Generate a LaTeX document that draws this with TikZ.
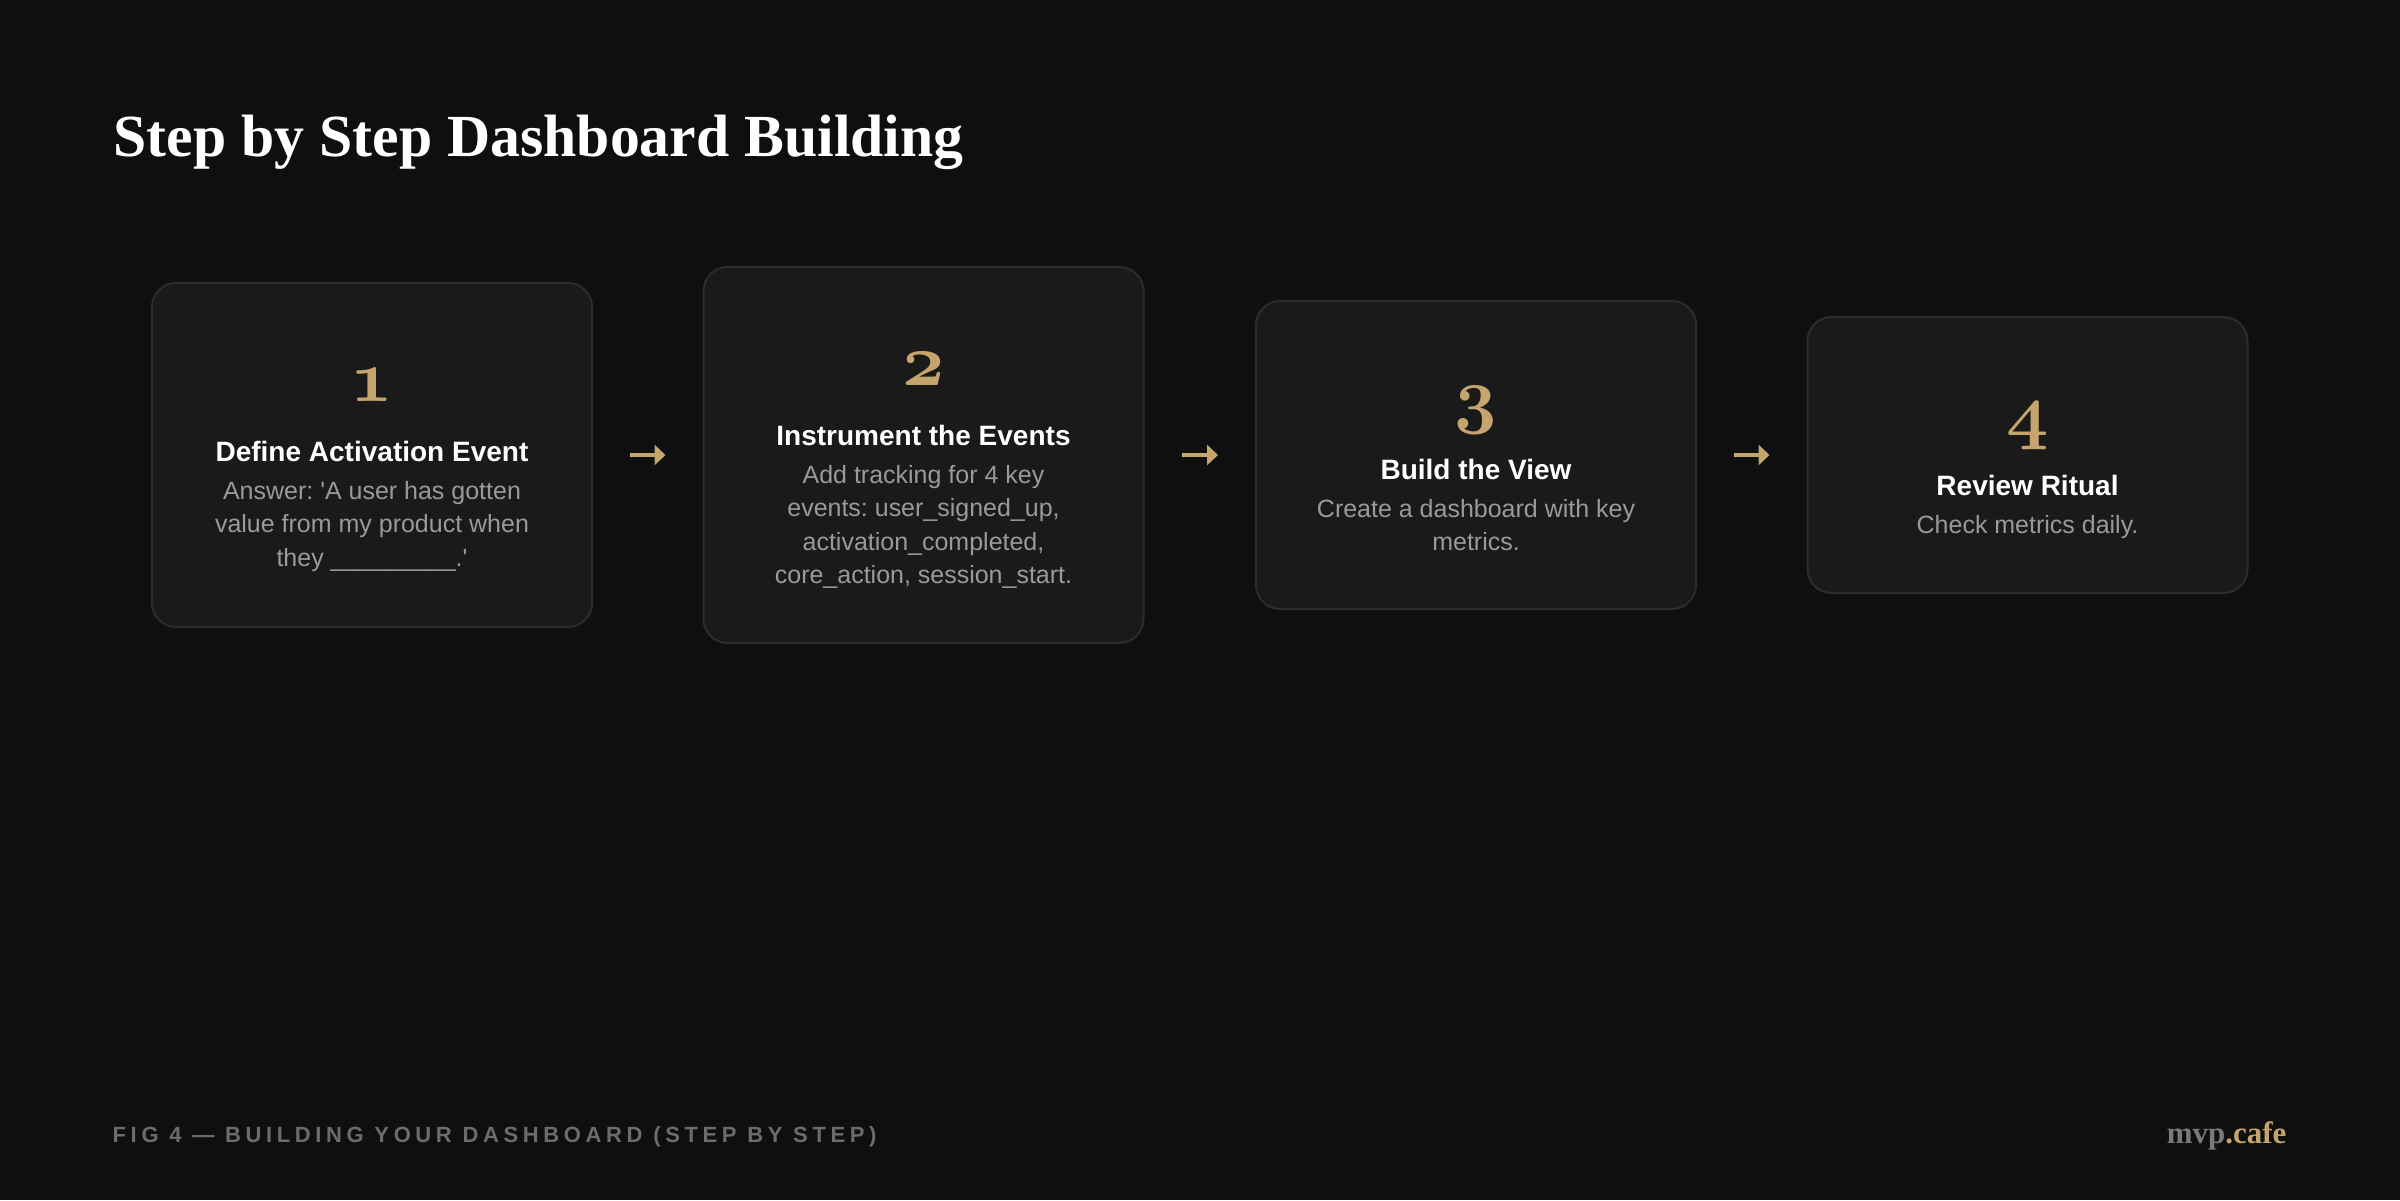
\RequirePackage{fix-cm}
\documentclass[tikz,border=0pt]{standalone}
\usepackage{fontspec}
\usepackage{xcolor}
\usepackage{tikz}
\usetikzlibrary{arrows.meta}
\setmainfont{Liberation Serif}
\setsansfont{Liberation Sans}
\newfontfamily\capfont[LetterSpace=21]{Liberation Sans}
\frenchspacing

\definecolor{pagebg}{HTML}{0F0F0F}
\definecolor{cardfill}{HTML}{1A1A1A}
\definecolor{cardline}{HTML}{2C2C2C}
\definecolor{gold}{HTML}{C5A46D}
\definecolor{bodygrey}{HTML}{9A9A9A}
\definecolor{capgrey}{HTML}{6C6C6C}
\definecolor{logogrey}{HTML}{7A7A7A}

\tikzset{
    card/.style={draw=cardline, line width=0.2mm, fill=cardfill, rounded corners=2.4mm,
        minimum width=4.4cm, inner sep=0pt},
    stepnum/.style={anchor=base, inner sep=0pt, text=gold,
        font=\fontsize{21pt}{21pt}\usefont{OML}{cmm}{b}{it}},
    stephead/.style={anchor=base, inner sep=0pt, text=white,
        font=\sffamily\bfseries\fontsize{7.97pt}{9.5pt}\selectfont},
    % base of a wrapped text is its last line
    stepbody/.style={anchor=base, inner sep=0pt, text=bodygrey, align=center,
        font=\sffamily\fontsize{7.11pt}{9.53pt}\selectfont},
    flow/.style={draw=gold, line width=0.4mm, -{Triangle[length=1.1mm,width=2mm]},
        shorten <=3.7mm, shorten >=3.7mm}
}

\begin{document}
\begin{tikzpicture}
        % page
        \fill[pagebg] (0,0) rectangle (24,12);
        \useasboundingbox (0,0) rectangle (24,12);

        \node[anchor=base west, inner sep=0pt, text=white,
            font=\rmfamily\bfseries\fontsize{17pt}{20pt}\selectfont]
            (title) at (1.13,10.43) {Step by Step Dashboard Building};

        % the four cards
        \node[card, minimum height=3.44cm] (c1) at (3.72,7.45) {};
        \node[card, minimum height=3.76cm] (c2) at (9.235,7.45) {};
        \node[card, minimum height=3.08cm] (c3) at (14.76,7.45) {};
        \node[card, minimum height=2.76cm] (c4) at (20.275,7.45) {};

        \node[stepnum] (n1) at ([yshift=-1.19cm]c1.north) {1};
        \node[stephead] (h1) at ([yshift=-1.79cm]c1.north) {Define Activation Event};
        \node[stepbody] (b1) at ([yshift=-2.84cm]c1.north)
            {Answer: \textquotesingle A user has gotten\\value from my product when\\they \_\_\_\_\_\_\_\_\_.\textquotesingle};

        \node[stepnum] (n2) at ([yshift=-1.19cm]c2.north) {2};
        \node[stephead] (h2) at ([yshift=-1.79cm]c2.north) {Instrument the Events};
        \node[stepbody] (b2) at ([yshift=-3.175cm]c2.north)
            {Add tracking for 4 key\\events: user\_signed\_up,\\activation\_completed,\\core\_action, session\_start.};

        \node[stepnum] (n3) at ([yshift=-1.19cm]c3.north) {3};
        \node[stephead] (h3) at ([yshift=-1.79cm]c3.north) {Build the View};
        \node[stepbody] (b3) at ([yshift=-2.505cm]c3.north)
            {Create a dashboard with key\\metrics.};

        \node[stepnum] (n4) at ([yshift=-1.19cm]c4.north) {4};
        \node[stephead] (h4) at ([yshift=-1.79cm]c4.north) {Review Ritual};
        \node[stepbody] (b4) at ([yshift=-2.17cm]c4.north) {Check metrics daily.};

        \draw[flow] (c1) -- (c2);
        \draw[flow] (c2) -- (c3);
        \draw[flow] (c3) -- (c4);

        % footer
        \node[anchor=base west, inner sep=0pt, text=capgrey,
            font=\capfont\bfseries\fontsize{6.26pt}{7pt}\selectfont]
            (cap) at (1.12,0.58) {FIG 4 — BUILDING YOUR DASHBOARD (STEP BY STEP)};
        \node[anchor=base east, inner sep=0pt,
            font=\rmfamily\bfseries\fontsize{8.8pt}{10pt}\selectfont]
            (logo) at (22.87,0.57) {\textcolor{logogrey}{mvp}\textcolor{gold}{.cafe}};
    \end{tikzpicture}
\end{document}
